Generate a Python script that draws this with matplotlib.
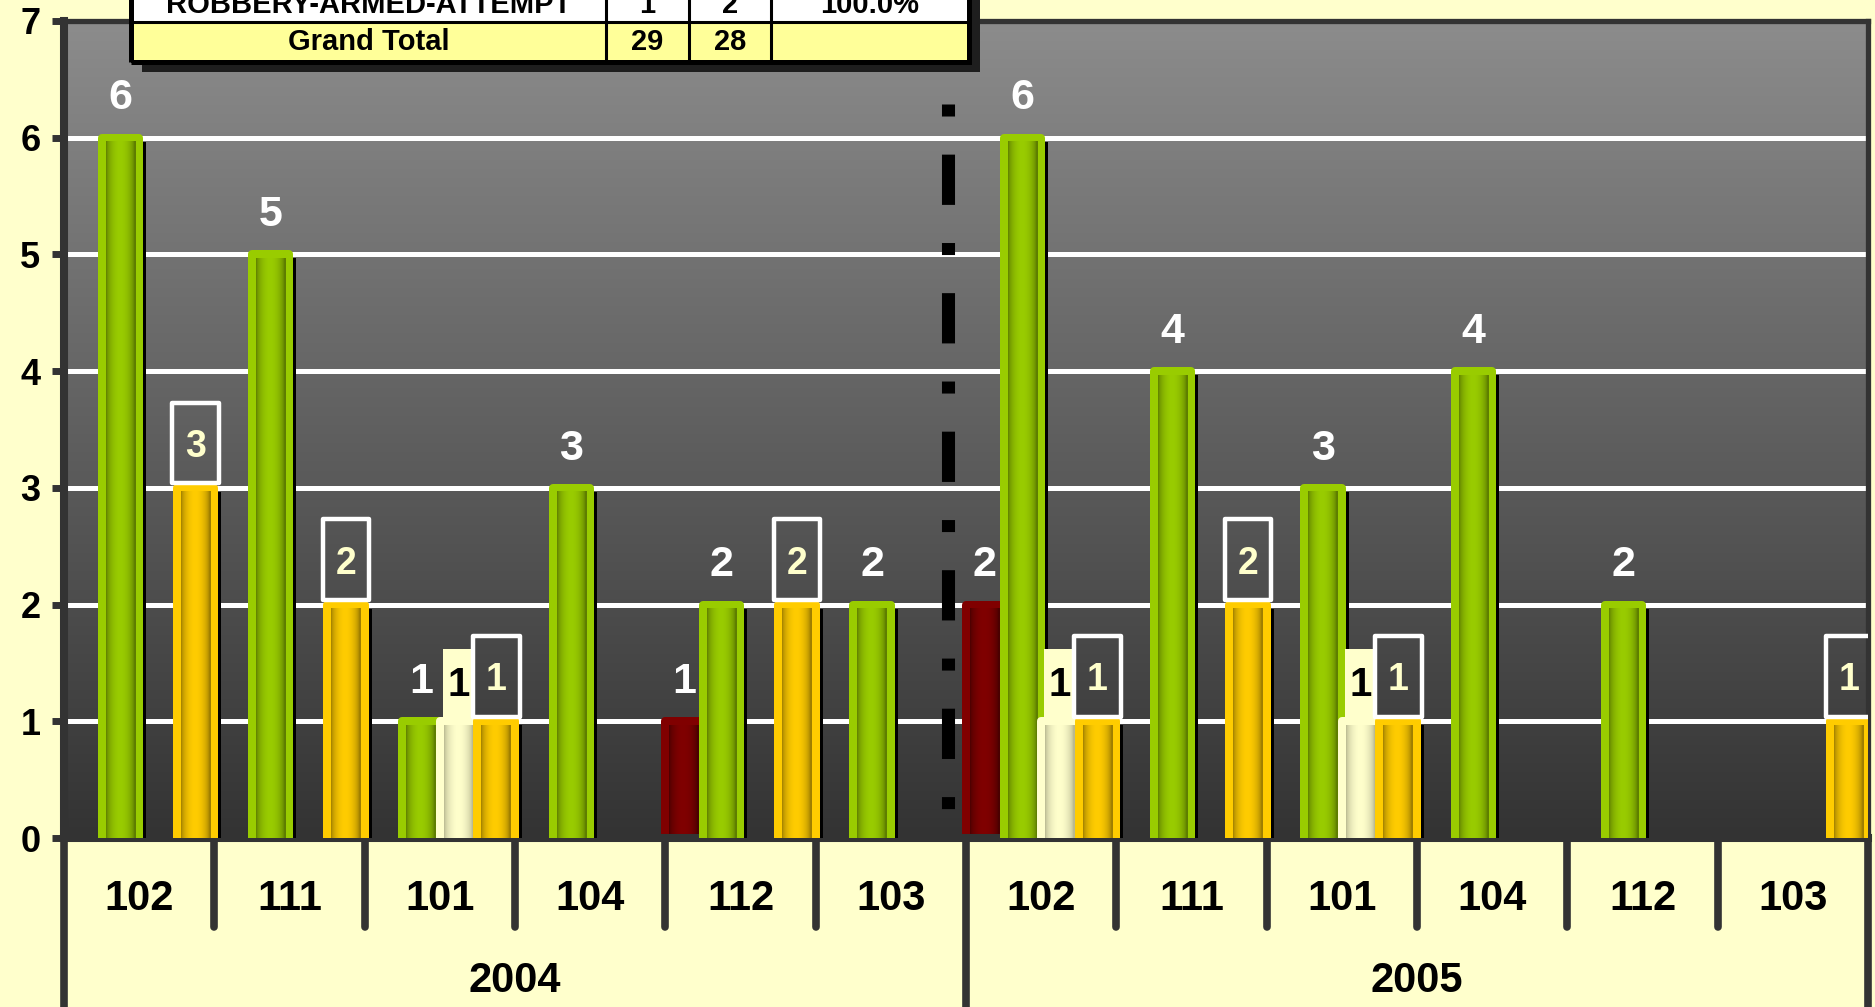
import numpy as np
import matplotlib
matplotlib.use("Agg")
import matplotlib.pyplot as plt
from matplotlib.patches import Rectangle
from matplotlib.lines import Line2D
import matplotlib.transforms as mtransforms
import matplotlib.colors as mcolors

plt.rcParams['font.family'] = ['Liberation Sans', 'DejaVu Sans']
plt.rcParams['font.weight'] = 'bold'

# ---------------- data ----------------
years = ['2004', '2005']
precincts = ['102', '111', '101', '104', '112', '103']
# four series per precinct (series names not shown in the picture)
series_names = ['Series 1', 'Series 2', 'Series 3', 'Series 4']
series_red = [0, 0, 0, 0, 1, 0, 2, 0, 0, 0, 0, 0]
series_green = [6, 5, 1, 3, 2, 2, 6, 4, 3, 4, 2, 0]
series_cream = [0, 0, 1, 0, 0, 0, 1, 0, 1, 0, 0, 0]
series_yellow = [3, 2, 1, 0, 2, 0, 1, 2, 1, 0, 0, 1]
y_ticks = [0, 1, 2, 3, 4, 5, 6, 7]
table_header_row = ['ROBBERY-ARMED-ATTEMPT', '1', '2', '100.0%']
table_total_row = ['Grand Total', '29', '28', '']

# ---------------- styling ----------------
W, H = 1875, 1007
fig = plt.figure(figsize=(W / 100, H / 100), dpi=100, facecolor='#FFFFCC')
AXL, AXR, AXT, AXB = 64, 1868, 21, 838
ax = fig.add_axes([AXL / W, 1 - AXB / H, (AXR - AXL) / W, (AXB - AXT) / H])

ncat = len(years) * len(precincts)
xlim = (-0.5, ncat - 0.5)
ylim = (0, 7)
px_x = (xlim[1] - xlim[0]) / (AXR - AXL)   # data units per pixel in x
px_y = (ylim[1] - ylim[0]) / (AXB - AXT)   # data units per pixel in y

# background gradient of the plot area
top_c = np.array(mcolors.to_rgb('#8C8C8C'))
bot_c = np.array(mcolors.to_rgb('#333333'))
g = np.linspace(0, 1, 256)[:, None, None]
bg = top_c * (1 - g) + bot_c * g
bg = np.repeat(bg, 2, axis=1)
ax.imshow(bg, extent=[xlim[0], xlim[1], ylim[0], ylim[1]], aspect='auto',
          interpolation='bilinear', zorder=0, origin='upper')

# gridlines
for yv in y_ticks[1:-1]:
    ax.axhline(yv, color='white', lw=3.6, zorder=1)

series_vals = [series_red, series_green, series_cream, series_yellow]
base_cols = ['#800000', '#99CC00', '#FFFFCC', '#FFCC00']
edge_cols = ['#4A0000', '#5E7D00', '#B8B890', '#9E7E00']

nser = 4
slot = 1.0 / nser
t = np.linspace(0, 1, 64)
prof = np.sin(np.pi * np.clip(t * 1.05, 0, 1)) ** 0.6
BORDER_PX = 8


def draw_bar(xc, val, base, edge, z):
    x0 = xc - slot / 2
    # shadow
    ax.add_patch(Rectangle((x0 + 7 * px_x, 0), slot, val - BORDER_PX / 2 * px_y,
                           fc='black', ec='none', zorder=z))
    # body with border
    ax.add_patch(Rectangle((x0, 0), slot, val, fc=base, ec=base, lw=BORDER_PX * 0.72,
                           joinstyle='round', zorder=z + 0.1))
    # inner gradient
    b = np.array(mcolors.to_rgb(base))
    e = np.array(mcolors.to_rgb(edge))
    img = (e[None, :] * (1 - prof[:, None]) + b[None, :] * prof[:, None])[None, :, :]
    ins_x = BORDER_PX / 2 * px_x
    ax.imshow(img, extent=[x0 + ins_x, x0 + slot - ins_x, 0, val - BORDER_PX / 2 * px_y],
              aspect='auto', interpolation='bilinear', zorder=z + 0.2)


def baseline_for(center, fs):
    cap = 0.716 * fs * 100 / 72 * px_y
    return center - cap / 2


for s in range(nser):
    vals = series_vals[s]
    for c in range(ncat):
        v = vals[c]
        if v <= 0:
            continue
        xc = c - 0.5 + slot * (s + 0.5)
        draw_bar(xc, v, base_cols[s], edge_cols[s], 2 + 3 * s)

# data labels
for s in range(nser):
    vals = series_vals[s]
    for c in range(ncat):
        v = vals[c]
        if v <= 0:
            continue
        xc = c - 0.5 + slot * (s + 0.5)
        if s in (0, 1):
            fs = 31
            ax.text(xc, baseline_for(v + 0.375, fs), str(v), color='white', fontsize=fs,
                    fontweight='bold', ha='center', va='baseline', zorder=40)
        elif s == 2:
            fs = 29
            ax.add_patch(Rectangle((xc - 0.103, v + 0.03), 0.206, 0.59, fc='#FFFFCC',
                                   ec='none', zorder=39))
            ax.text(xc, baseline_for(v + 0.34, fs), str(v), color='black', fontsize=fs,
                    fontweight='bold', ha='center', va='baseline', zorder=40)
        else:
            fs = 27
            ax.add_patch(Rectangle((xc - 0.155, v + 0.04), 0.31, 0.69, fc='none',
                                   ec='white', lw=3.2, joinstyle='round', zorder=39))
            ax.text(xc, baseline_for(v + 0.38, fs), str(v), color='#FFFFCC', fontsize=fs,
                    fontweight='bold', ha='center', va='baseline', zorder=40)

# dash-dot divider between the years
div_x = 5.38
ax.add_line(Line2D([div_x, div_x], [6.29, 0.20], color='black', lw=9.4,
                   linestyle=(0, (0.92, 2.92, 3.85, 2.92)), solid_capstyle='butt',
                   dash_capstyle='butt', zorder=30))

ax.set_xlim(*xlim)
ax.set_ylim(*ylim)
ax.set_xticks([])
ax.set_yticks(y_ticks)
ax.set_yticklabels([str(v) for v in y_ticks], fontsize=26, fontweight='bold')
ax.tick_params(axis='y', direction='out', length=9, width=5, color='#333333', pad=8)
for side, lw in (('left', 5.8), ('bottom', 5.8), ('top', 3.8), ('right', 3.8)):
    ax.spines[side].set_color('#333333')
    ax.spines[side].set_linewidth(lw)
    ax.spines[side].set_capstyle('projecting')

# multi-level category axis
trans = mtransforms.blended_transform_factory(ax.transData, ax.transAxes)
ax_h_px = AXB - AXT
short_end = -(927 - AXB) / ax_h_px
for k in range(ncat + 1):
    xb = -0.5 + k
    long_line = (k % len(precincts) == 0)
    y1 = -0.4 if long_line else short_end
    ax.add_line(Line2D([xb, xb], [0, y1], transform=trans, color='#333333', lw=5.5,
                       solid_capstyle='round', clip_on=False, zorder=5))

ftrans = mtransforms.blended_transform_factory(ax.transData, fig.transFigure)
for c in range(ncat):
    ax.text(c, 1 - 899 / H, precincts[c % len(precincts)], transform=ftrans,
            ha='center', va='center', fontsize=30, fontweight='bold', color='black')
for yi, yr in enumerate(years):
    xc = yi * len(precincts) + (len(precincts) - 1) / 2
    ax.text(xc, 1 - 981 / H, yr, transform=ftrans, ha='center', va='center',
            fontsize=30, fontweight='bold', color='black')

# partial data table at top-left
def fx(p):
    return p / W


def fy(p):
    return 1 - p / H


tl, tr = 131, 969
col_edges = [131, 606, 689, 771, 969]
row_edges = [-30, 22, 62]
fig.patches.append(Rectangle((fx(tl + 11), fy(row_edges[-1] + 10)), fx(tr) - fx(tl),
                             fy(row_edges[0]) - fy(row_edges[-1]),
                             transform=fig.transFigure, fc='#1E1E1E', ec='none', zorder=5))
row_colors = ['white', '#FFFF99']
for r in range(2):
    fig.patches.append(Rectangle((fx(tl), fy(row_edges[r + 1])), fx(tr) - fx(tl),
                                 fy(row_edges[r]) - fy(row_edges[r + 1]),
                                 transform=fig.transFigure, fc=row_colors[r], ec='none',
                                 zorder=6))
for ce in col_edges[1:-1]:
    fig.lines.append(Line2D([fx(ce), fx(ce)], [fy(row_edges[0]), fy(row_edges[-1])],
                            transform=fig.transFigure, color='black', lw=2.2, zorder=7))
fig.lines.append(Line2D([fx(tl), fx(tr)], [fy(row_edges[1]), fy(row_edges[1])],
                        transform=fig.transFigure, color='black', lw=2.2, zorder=7))
fig.patches.append(Rectangle((fx(tl), fy(row_edges[-1])), fx(tr) - fx(tl),
                             fy(row_edges[0]) - fy(row_edges[-1]),
                             transform=fig.transFigure, fc='none', ec='black', lw=3.6,
                             zorder=8))
col_centers = [(col_edges[i] + col_edges[i + 1]) / 2 for i in range(4)]
for row, base_px in ((table_header_row, 13), (table_total_row, 50)):
    for i, txt in enumerate(row):
        if txt:
            fig.text(fx(col_centers[i]), fy(base_px), txt, ha='center', va='baseline',
                     fontsize=21, fontweight='bold', color='black', zorder=9)

fig.savefig('out.png', dpi=100, facecolor=fig.get_facecolor())
